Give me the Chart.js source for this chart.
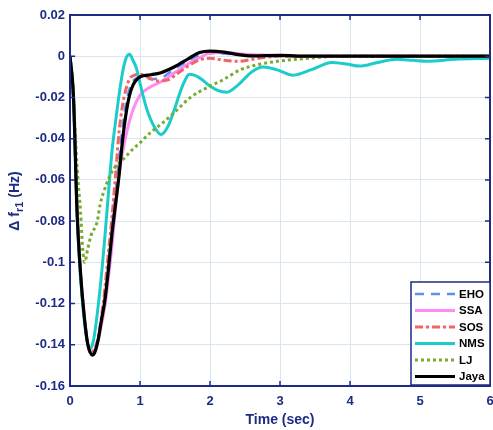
<!DOCTYPE html>
<html>
<head>
<meta charset="utf-8">
<script src="https://cdn.jsdelivr.net/npm/chart.js@4.4.1/dist/chart.umd.min.js"></script>
<style>
  html, body { margin: 0; padding: 0; background: #fff; }
  #wrap { width: 493px; height: 430px; }
</style>
</head>
<body>
<div id="wrap"><canvas id="graph"></canvas></div>
<script>
// time (sec) and frequency deviation (Hz) for each algorithm
const ehoT = [0, 0.05, 0.1, 0.15, 0.2, 0.25, 0.3, 0.35, 0.4, 0.45, 0.5, 0.55, 0.6, 0.65, 0.7, 0.75, 0.8, 0.85, 0.9, 1.0, 1.15, 1.3, 1.5, 1.7, 1.9, 2.0, 2.3, 2.6, 3.0, 6];
const ehoF = [0, -0.02, -0.074, -0.105, -0.125, -0.139, -0.144, -0.143, -0.137, -0.127, -0.116, -0.1, -0.083, -0.066, -0.05, -0.035, -0.023, -0.016, -0.012, -0.0105, -0.011, -0.0105, -0.006, -0.002, 0.001, 0.0015, 0.001, 0.0003, 0, 0];

const ssaT = [0, 0.05, 0.1, 0.15, 0.2, 0.25, 0.3, 0.35, 0.4, 0.45, 0.5, 0.55, 0.6, 0.65, 0.71, 0.81, 0.9, 1.0, 1.14, 1.29, 1.43, 1.57, 1.72, 1.86, 2.0, 2.2, 2.5, 2.8, 3.2, 6];
const ssaF = [0, -0.02, -0.074, -0.105, -0.125, -0.139, -0.144, -0.143, -0.138, -0.13, -0.121, -0.107, -0.092, -0.074, -0.055, -0.037, -0.026, -0.019, -0.015, -0.0126, -0.0095, -0.0063, -0.003, -0.0005, 0.0015, 0.0018, 0.001, 0.0005, 0, 0];

const sosT = [0, 0.05, 0.1, 0.15, 0.2, 0.25, 0.3, 0.35, 0.4, 0.45, 0.5, 0.55, 0.6, 0.65, 0.7, 0.75, 0.8, 0.85, 0.9, 1.0, 1.1, 1.25, 1.4, 1.55, 1.7, 1.85, 2.0, 2.2, 2.4, 2.6, 2.8, 3.0, 6];
const sosF = [0, -0.02, -0.073, -0.105, -0.125, -0.139, -0.144, -0.142, -0.137, -0.126, -0.112, -0.095, -0.078, -0.058, -0.037, -0.024, -0.016, -0.011, -0.0095, -0.0088, -0.01, -0.012, -0.0115, -0.008, -0.0045, -0.0018, -0.001, -0.002, -0.0025, -0.0015, -0.0005, 0, 0];

const nmsT = [0, 0.05, 0.1, 0.15, 0.2, 0.25, 0.28, 0.32, 0.35, 0.4, 0.45, 0.5, 0.55, 0.6, 0.65, 0.7, 0.75, 0.8, 0.85, 0.9, 0.95, 1.0, 1.05, 1.1, 1.2, 1.3, 1.4, 1.5, 1.6, 1.71, 1.85, 2.0, 2.1, 2.24, 2.4, 2.6, 2.76, 2.95, 3.19, 3.45, 3.74, 3.95, 4.14, 4.4, 4.67, 4.9, 5.1, 5.5, 6];
const nmsF = [0, -0.02, -0.075, -0.107, -0.127, -0.139, -0.142, -0.14, -0.135, -0.122, -0.106, -0.087, -0.066, -0.046, -0.032, -0.019, -0.008, -0.001, 0.001, -0.002, -0.006, -0.013, -0.02, -0.026, -0.034, -0.038, -0.034, -0.025, -0.015, -0.0088, -0.0105, -0.0145, -0.0165, -0.0175, -0.014, -0.0075, -0.0052, -0.0065, -0.0092, -0.0065, -0.003, -0.0038, -0.0048, -0.003, -0.0015, -0.002, -0.0024, -0.0015, -0.001];

const ljT = [0, 0.04, 0.07, 0.114, 0.15, 0.18, 0.21, 0.25, 0.3, 0.39, 0.43, 0.48, 0.57, 0.64, 0.76, 0.9, 1.0, 1.15, 1.3, 1.5, 1.72, 2.0, 2.2, 2.43, 2.71, 3.0, 3.38, 3.86, 6];
const ljF = [0, -0.015, -0.035, -0.06, -0.075, -0.093, -0.1, -0.094, -0.087, -0.08, -0.072, -0.066, -0.058, -0.054, -0.05, -0.045, -0.042, -0.037, -0.033, -0.027, -0.02, -0.0145, -0.0112, -0.0066, -0.0039, -0.0023, -0.0011, 0, 0];

const jayaT = [0, 0.05, 0.1, 0.15, 0.2, 0.25, 0.32, 0.35, 0.4, 0.45, 0.5, 0.55, 0.6, 0.65, 0.7, 0.75, 0.8, 0.85, 0.9, 1.0, 1.15, 1.3, 1.5, 1.7, 1.85, 2.0, 2.2, 2.4, 2.6, 3.0, 3.4, 6];
const jayaF = [0, -0.02, -0.075, -0.105, -0.125, -0.139, -0.145, -0.144, -0.138, -0.128, -0.118, -0.103, -0.086, -0.072, -0.058, -0.041, -0.028, -0.019, -0.014, -0.01, -0.009, -0.008, -0.005, -0.001, 0.0018, 0.0025, 0.002, 0.0008, 0.0002, 0.0004, 0, 0];

const xTicks = [0, 1, 2, 3, 4, 5, 6];
const yTickLabels = ["0.02", "0", "-0.02", "-0.04", "-0.06", "-0.08", "-0.1", "-0.12", "-0.14", "-0.16"];

const navy = "#1d2b85";
const gridBlue = "#d8e6f2";
const fontFam = "'Liberation Sans', Arial, sans-serif";

function toPoints(t, f) {
  return t.map((x, i) => ({ x: x, y: f[i] }));
}

function line(label, t, f, color, width, dash, order) {
  return {
    label: label,
    data: toPoints(t, f),
    borderColor: color,
    backgroundColor: color,
    borderWidth: width,
    borderDash: dash,
    pointRadius: 0,
    fill: false,
    cubicInterpolationMode: "monotone",
    order: order,
  };
}

// extra drawing: box, inward ticks, x labels, titles, legend
const decorations = {
  id: "decorations",
  afterDraw(chart) {
    const ctx = chart.ctx;
    const a = chart.chartArea;
    const xs = chart.scales.x;
    const ys = chart.scales.y;
    ctx.save();

    // ticks pointing inwards
    ctx.strokeStyle = navy;
    ctx.lineWidth = 1.5;
    ctx.beginPath();
    xTicks.forEach(v => {
      const px = xs.getPixelForValue(v);
      ctx.moveTo(px, a.bottom);
      ctx.lineTo(px, a.bottom - 5);
      ctx.moveTo(px, a.top);
      ctx.lineTo(px, a.top + 5);
    });
    yTickLabels.forEach(s => {
      const py = ys.getPixelForValue(parseFloat(s));
      ctx.moveTo(a.left, py);
      ctx.lineTo(a.left + 5, py);
      ctx.moveTo(a.right, py);
      ctx.lineTo(a.right - 5, py);
    });
    ctx.stroke();

    // plot box
    ctx.lineWidth = 2;
    ctx.strokeRect(a.left, a.top, a.right - a.left, a.bottom - a.top);

    // x tick labels
    ctx.fillStyle = navy;
    ctx.font = "bold 13px " + fontFam;
    ctx.textAlign = "center";
    ctx.textBaseline = "middle";
    xTicks.forEach(v => {
      ctx.fillText(String(v), xs.getPixelForValue(v), 401);
    });

    // x title
    ctx.font = "bold 14px " + fontFam;
    ctx.fillText("Time (sec)", (a.left + a.right) / 2, 420);

    // y title with subscript
    ctx.translate(15, 201);
    ctx.rotate(-Math.PI / 2);
    const big = "bold 14px " + fontFam;
    const small = "bold 11px " + fontFam;
    const parts = [
      { t: "\u0394 f", f: big, dy: 0 },
      { t: "r1", f: small, dy: 5 },
      { t: " (Hz)", f: big, dy: 0 },
    ];
    let total = 0;
    parts.forEach(p => { ctx.font = p.f; total += ctx.measureText(p.t).width; });
    let cx = -total / 2;
    ctx.textAlign = "left";
    parts.forEach(p => {
      ctx.font = p.f;
      ctx.fillText(p.t, cx, p.dy);
      cx += ctx.measureText(p.t).width;
    });
    ctx.setTransform(1, 0, 0, 1, 0, 0);

    // legend
    const bx = 411, by = 282, bw = a.right - 411, bh = 103;
    ctx.fillStyle = "#fff";
    ctx.fillRect(bx, by, bw, bh);
    ctx.strokeStyle = navy;
    ctx.lineWidth = 1.5;
    ctx.strokeRect(bx, by, bw, bh);
    ctx.font = "bold 11.5px " + fontFam;
    ctx.textBaseline = "middle";
    chart.data.datasets.forEach((ds, i) => {
      const y = 294 + i * 16.5;
      ctx.strokeStyle = ds.borderColor;
      ctx.lineWidth = ds.borderWidth;
      ctx.setLineDash(ds.borderDash || []);
      ctx.beginPath();
      ctx.moveTo(415, y);
      ctx.lineTo(455, y);
      ctx.stroke();
      ctx.setLineDash([]);
      ctx.fillStyle = "#000";
      ctx.fillText(ds.label, 459, y + 0.5);
    });
    ctx.restore();
  },
};

const ctx = document.getElementById("graph").getContext("2d");
new Chart(ctx, {
  type: "line",
  data: {
    datasets: [
      line("EHO", ehoT, ehoF, "#5b8ff5", 2.5, [9, 7], 5),
      line("SSA", ssaT, ssaF, "#ff8cf5", 3, [], 4),
      line("SOS", sosT, sosF, "#f36464", 3, [8, 3, 3, 3], 3),
      line("NMS", nmsT, nmsF, "#1ccccb", 3, [], 2),
      line("LJ", ljT, ljF, "#77ac30", 3, [3, 3], 1),
      line("Jaya", jayaT, jayaF, "#000000", 3.2, [], 0),
    ],
  },
  options: {
    responsive: true,
    maintainAspectRatio: false,
    animation: false,
    layout: { padding: { top: 15, right: 3, left: 0, bottom: 0 } },
    plugins: {
      legend: { display: false },
      tooltip: { enabled: false },
    },
    scales: {
      x: {
        type: "linear",
        min: 0,
        max: 6,
        afterFit: s => { s.height = 44; },
        afterBuildTicks: s => { s.ticks = xTicks.map(v => ({ value: v })); },
        ticks: { display: false },
        grid: { color: gridBlue, lineWidth: 1, drawTicks: false },
        border: { display: false },
      },
      y: {
        type: "linear",
        min: -0.16,
        max: 0.02,
        afterFit: s => { s.width = 70; },
        afterBuildTicks: s => { s.ticks = yTickLabels.map(l => ({ value: parseFloat(l) })); },
        ticks: {
          color: navy,
          padding: 5,
          font: { family: fontFam, size: 13, weight: "bold" },
          callback: v => {
            const lab = yTickLabels.find(l => Math.abs(parseFloat(l) - v) < 1e-9);
            return lab !== undefined ? lab : "";
          },
        },
        grid: { color: gridBlue, lineWidth: 1, drawTicks: false },
        border: { display: false },
      },
    },
  },
  plugins: [decorations],
});
</script>
</body>
</html>
